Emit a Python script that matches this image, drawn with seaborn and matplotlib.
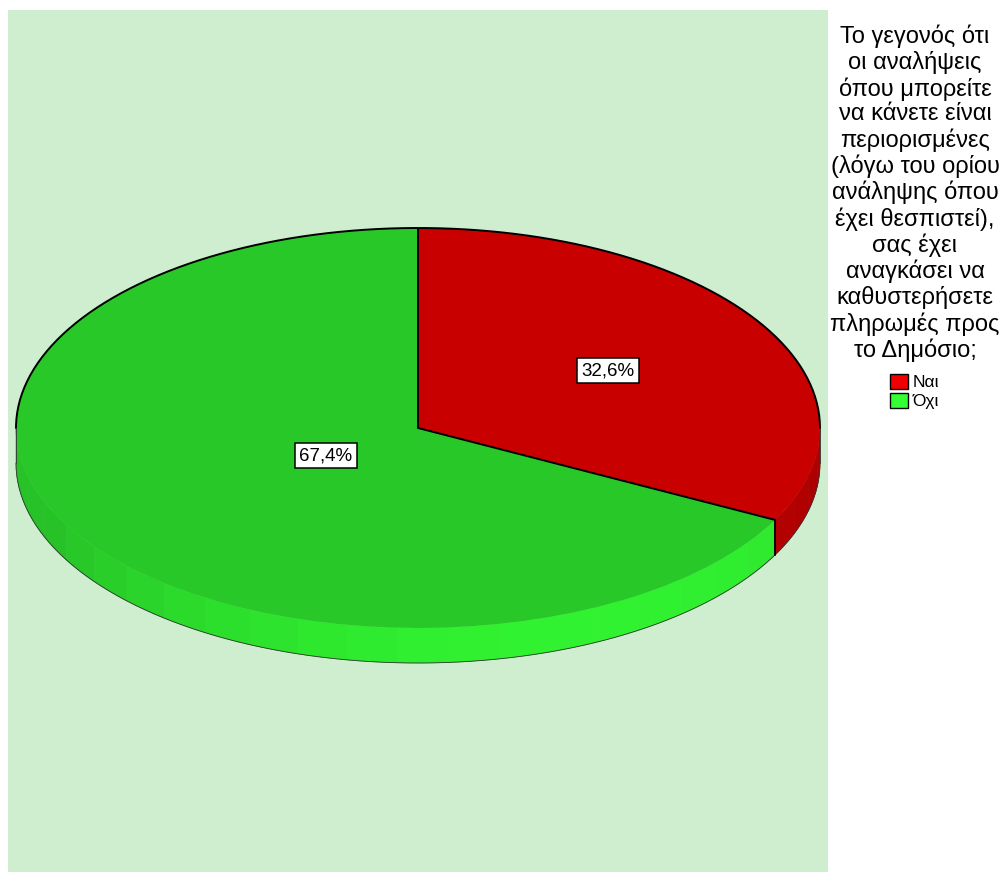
import numpy as np
import matplotlib
matplotlib.use("Agg")
import matplotlib.pyplot as plt
import seaborn as sns
from matplotlib.patches import Rectangle, Polygon, Patch

# ---- data ----
categories = ["Ναι", "Όχι"]
values = [32.6, 67.4]
value_labels = ["32,6%", "67,4%"]
legend_title = ("Το γεγονός ότι\nοι αναλήψεις\nόπου μπορείτε\nνα κάνετε είναι\n"
                "περιορισμένες\n(λόγω του ορίου\nανάληψης όπου\nέχει θεσπιστεί),\n"
                "σας έχει\nαναγκάσει να\nκαθυστερήσετε\nπληρωμές προς\nτο Δημόσιο;")

# ---- style ----
sns.set_style("white")
plt.rcParams['font.family'] = ['Liberation Sans', 'DejaVu Sans']
plt.rcParams['text.color'] = 'black'

top_colors = ["#C80000", "#28C828"]
side_colors = [(0.74, 0.0, 0.0), (0.19, 0.95, 0.19)]
legend_colors = ["#F00000", "#33FF33"]
panel_color = "#CFEDCF"

W, H = 1002, 873
fig = plt.figure(figsize=(W / 100, H / 100), dpi=100)

# background panel (pixel coordinates)
bg = fig.add_axes([0, 0, 1, 1])
bg.set_xlim(0, W)
bg.set_ylim(H, 0)
bg.axis("off")
bg.add_patch(Rectangle((8, 10), 820, 862, color=panel_color, lw=0))

# pie axes: 1 unit in x = 402 px, 1 unit in y = 200 px, center at (418, 428)
cx, cy, rx, ry = 418, 428, 402, 200
xl = (-1.1, 1.1)
yl = (-1.4, 1.1)
left_px = cx + xl[0] * rx
width_px = (xl[1] - xl[0]) * rx
top_px = cy - yl[1] * ry
height_px = (yl[1] - yl[0]) * ry
ax = fig.add_axes([left_px / W, 1 - (top_px + height_px) / H, width_px / W, height_px / H])

depth = 35 / ry

# top surface via pie
wedges, _ = ax.pie(values, colors=top_colors, startangle=90, counterclock=False,
                   radius=1, wedgeprops=dict(linewidth=0, edgecolor="none"))
for w in wedges:
    w.set_zorder(3)
ax.set_aspect("auto")
ax.set_xlim(*xl)
ax.set_ylim(*yl)
ax.axis("off")

# slice angles (degrees, math convention, clockwise from 90)
bounds = [90.0]
for v in values:
    bounds.append(bounds[-1] - 360.0 * v / sum(values))

# side facets (front half only: angles between -180 and 0)
light_dir = -65.0
for i in range(len(values)):
    a0, a1 = bounds[i + 1], bounds[i]  # a0 < a1
    lo = max(a0, -180.0)
    hi = min(a1, 0.0)
    if lo >= hi:
        continue
    n = max(2, int(np.ceil((hi - lo) / 7.5)))
    edges = np.linspace(lo, hi, n + 1)
    for k in range(n):
        t = np.radians(np.linspace(edges[k], edges[k + 1], 8))
        xs = np.cos(t)
        ys = np.sin(t)
        poly = np.vstack([np.column_stack([xs, ys]),
                          np.column_stack([xs[::-1], ys[::-1] - depth])])
        mid = 0.5 * (edges[k] + edges[k + 1])
        f = 0.80 + 0.20 * max(0.0, np.cos(np.radians(mid - light_dir)))
        c = tuple(min(1, ch * f) for ch in side_colors[i])
        ax.add_patch(Polygon(poly, closed=True, facecolor=c, edgecolor=c,
                             lw=0.5, zorder=2))

# outlines
tb = np.radians(np.linspace(0, 180, 200))
ax.plot(np.cos(tb), np.sin(tb), color="black", lw=1.4, zorder=4, solid_capstyle="round")
tf = np.radians(np.linspace(-180, 0, 200))
ax.plot(np.cos(tf), np.sin(tf) - depth, color="#333333", lw=0.6, zorder=4)
ax.plot([-1, -1], [0, -depth], color="#333333", lw=0.6, zorder=4)
ax.plot([1, 1], [0, -depth], color="#333333", lw=0.6, zorder=4)
for b in bounds[:-1]:
    r = np.radians(b)
    ax.plot([0, np.cos(r)], [0, np.sin(r)], color="black", lw=1.4, zorder=4)
    if np.sin(r) < 0:
        ax.plot([np.cos(r), np.cos(r)], [np.sin(r), np.sin(r) - depth],
                color="black", lw=1.4, zorder=4)

# value labels
label_dist = [0.553, 0.268]
for i, lab in enumerate(value_labels):
    mid = np.radians(0.5 * (bounds[i] + bounds[i + 1]))
    ax.text(label_dist[i] * np.cos(mid), label_dist[i] * np.sin(mid), lab,
            ha="center", va="center", fontsize=13.5, zorder=6, color="black",
            bbox=dict(boxstyle="square,pad=0.22", facecolor="white",
                      edgecolor="black", lw=1.1))

# legend
handles = [Patch(facecolor=c, edgecolor="black", lw=1.0) for c in legend_colors]
leg = fig.legend(handles, categories, title=legend_title, loc="upper center",
                 bbox_to_anchor=(915 / W, 1 - 25 / H), frameon=False,
                 fontsize=12.5, title_fontsize=17, alignment="center",
                 handlelength=1.0, handleheight=0.95, handletextpad=0.3,
                 labelspacing=0.15, borderpad=0, borderaxespad=0)
leg.get_title().set_linespacing(1.155)
leg.get_title().set_multialignment("center")
leg.get_title().set_color("black")
for t in leg.get_texts():
    t.set_color("black")
leg._legend_box.sep = 8.5

fig.savefig("out.png", dpi=100)
